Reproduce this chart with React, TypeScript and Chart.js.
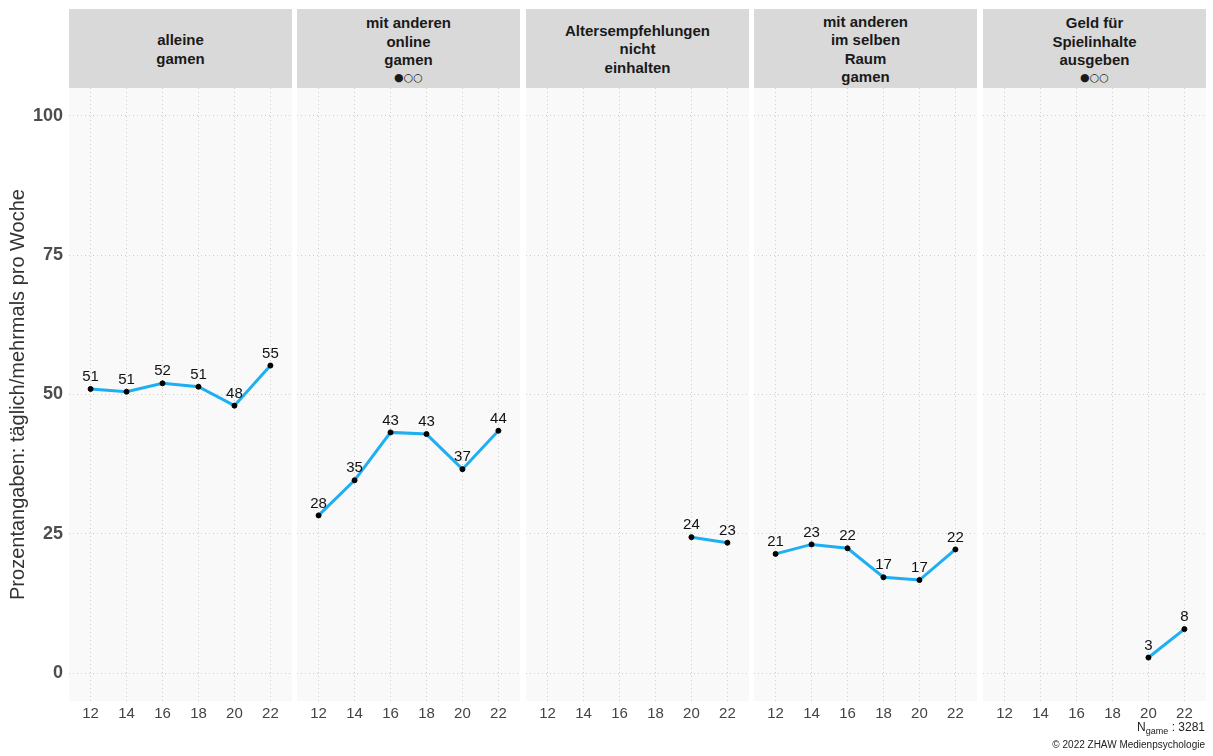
import React, { useEffect, useRef } from "react";
import { Chart, registerables } from "chart.js";

Chart.register(...registerables);

const ages = [12, 14, 16, 18, 20, 22];
const alleineGamen = [51.0, 50.5, 52.0, 51.4, 48.0, 55.2];
const onlineGamen = [28.3, 34.6, 43.2, 42.9, 36.6, 43.5];
const altersempfehlungen = [null, null, null, null, 24.4, 23.4];
const selberRaum = [21.4, 23.1, 22.4, 17.2, 16.7, 22.2];
const geldSpielinhalte = [null, null, null, null, 2.8, 7.9];
const seriesList = [alleineGamen, onlineGamen, altersempfehlungen, selberRaum, geldSpielinhalte];
const panelTitles = [
  ["alleine", "gamen"],
  ["mit anderen", "online", "gamen", "●○○"],
  ["Altersempfehlungen", "nicht", "einhalten"],
  ["mit anderen", "im selben", "Raum", "gamen"],
  ["Geld für", "Spielinhalte", "ausgeben", "●○○"],
];
const yTicks = [0, 25, 50, 75, 100];
const yTitle = "Prozentangaben: täglich/mehrmals pro Woche";

const FONT = "'Liberation Sans', Arial, Helvetica, sans-serif";
const panelLefts = [69, 297, 526, 754, 983];
const PANEL_W = 223;
const TOP = 88;
const AREA_H = 613;
const XAXIS_H = 30;
const YAXIS_W = 69;

const bgPlugin = {
  id: "panelBg",
  beforeDraw(chart: any) {
    const { ctx, chartArea } = chart;
    ctx.save();
    ctx.fillStyle = "#f9f9f9";
    ctx.fillRect(chartArea.left, chartArea.top, chartArea.right - chartArea.left, chartArea.bottom - chartArea.top);
    ctx.restore();
  },
};

const labelPlugin = {
  id: "valueLabels",
  afterDatasetsDraw(chart: any) {
    const { ctx } = chart;
    const meta = chart.getDatasetMeta(0);
    const data = chart.data.datasets[0].data;
    ctx.save();
    ctx.font = `15px ${FONT}`;
    ctx.fillStyle = "#111";
    ctx.textAlign = "center";
    ctx.textBaseline = "middle";
    meta.data.forEach((pt: any, i: number) => {
      const d = data[i];
      if (d == null || d.y == null) return;
      ctx.fillText(String(Math.round(d.y)), pt.x, pt.y - 12);
    });
    ctx.restore();
  },
};

export default function App() {
  const refs = useRef<(HTMLCanvasElement | null)[]>([]);

  useEffect(() => {
    const charts: Chart[] = [];
    seriesList.forEach((series, idx) => {
      const canvas = refs.current[idx];
      if (!canvas) return;
      const first = idx === 0;
      const chart = new Chart(canvas, {
        type: "line",
        data: {
          datasets: [
            {
              data: ages.map((a, i) => ({ x: a, y: series[i] as any })),
              borderColor: "#1eaff2",
              borderWidth: 3,
              pointRadius: 2.5,
              pointBackgroundColor: "#000",
              pointBorderColor: "#000",
              pointBorderWidth: 1,
              spanGaps: false,
              tension: 0,
            },
          ],
        },
        options: {
          animation: false,
          responsive: false,
          maintainAspectRatio: false,
          layout: { padding: 0, autoPadding: false },
          plugins: { legend: { display: false }, tooltip: { enabled: false }, title: { display: false } },
          scales: {
            x: {
              type: "linear",
              min: 10.8,
              max: 23.2,
              afterBuildTicks: (s: any) => {
                s.ticks = ages.map((v) => ({ value: v }));
              },
              afterFit: (s: any) => {
                s.height = XAXIS_H;
                s.paddingLeft = 0;
                s.paddingRight = 0;
              },
              grid: { color: "#cfcfcf", lineWidth: 1, drawTicks: false },
              border: { display: false, dash: [1, 3] },
              ticks: {
                padding: 4,
                color: "#444",
                font: { family: FONT, size: 15 },
                maxRotation: 0,
                autoSkip: false,
              },
            },
            y: {
              type: "linear",
              min: -5,
              max: 105,
              afterBuildTicks: (s: any) => {
                s.ticks = yTicks.map((v) => ({ value: v }));
              },
              afterFit: (s: any) => {
                s.width = first ? YAXIS_W : 0;
                s.paddingTop = 0;
                s.paddingBottom = 0;
              },
              grid: { color: "#cfcfcf", lineWidth: 1, drawTicks: false },
              border: { display: false, dash: [1, 3] },
              ticks: {
                display: first,
                padding: 6,
                color: "#4d4d4d",
                font: { family: FONT, size: 18, weight: "bold" },
              },
              title: {
                display: first,
                text: yTitle,
                color: "#333",
                font: { family: FONT, size: 20 },
                padding: { top: 6, bottom: 0 },
              },
            },
          },
        },
        plugins: [bgPlugin, labelPlugin],
      } as any);
      charts.push(chart);
    });
    return () => charts.forEach((c) => c.destroy());
  }, []);

  return (
    <div style={{ position: "absolute", left: 0, top: 0, width: 1213, height: 756, background: "#fff", fontFamily: FONT, overflow: "hidden" }}>
      {panelTitles.map((lines, idx) => (
        <div
          key={"strip" + idx}
          style={{
            position: "absolute",
            left: panelLefts[idx],
            top: 9,
            width: PANEL_W,
            height: 79,
            background: "#d9d9d9",
            display: "flex",
            flexDirection: "column",
            justifyContent: "center",
            alignItems: "center",
            fontWeight: "bold",
            fontSize: 15,
            lineHeight: "18.5px",
            color: "#1a1a1a",
            textAlign: "center",
            paddingTop: 2,
            boxSizing: "border-box",
          }}
        >
          {lines.map((l, j) => (
            <div key={j} style={l.startsWith("●") ? { fontSize: 11, fontWeight: "normal", lineHeight: "15px", fontFamily: "'DejaVu Sans', sans-serif" } : undefined}>
              {l}
            </div>
          ))}
        </div>
      ))}
      {seriesList.map((_, idx) => {
        const left = idx === 0 ? 0 : panelLefts[idx];
        const width = idx === 0 ? panelLefts[0] + PANEL_W : PANEL_W;
        return (
          <canvas
            key={"c" + idx}
            ref={(el) => {
              refs.current[idx] = el;
            }}
            width={width}
            height={AREA_H + XAXIS_H}
            style={{ position: "absolute", left, top: TOP, width, height: AREA_H + XAXIS_H }}
          />
        );
      })}
      <div style={{ position: "absolute", right: 8, top: 720, fontSize: 12, color: "#222", whiteSpace: "nowrap" }}>
        N<sub style={{ fontSize: 9 }}>game</sub> : 3281
      </div>
      <div style={{ position: "absolute", right: 8, top: 739, fontSize: 10, color: "#222", whiteSpace: "nowrap" }}>
        © 2022 ZHAW Medienpsychologie
      </div>
    </div>
  );
}
